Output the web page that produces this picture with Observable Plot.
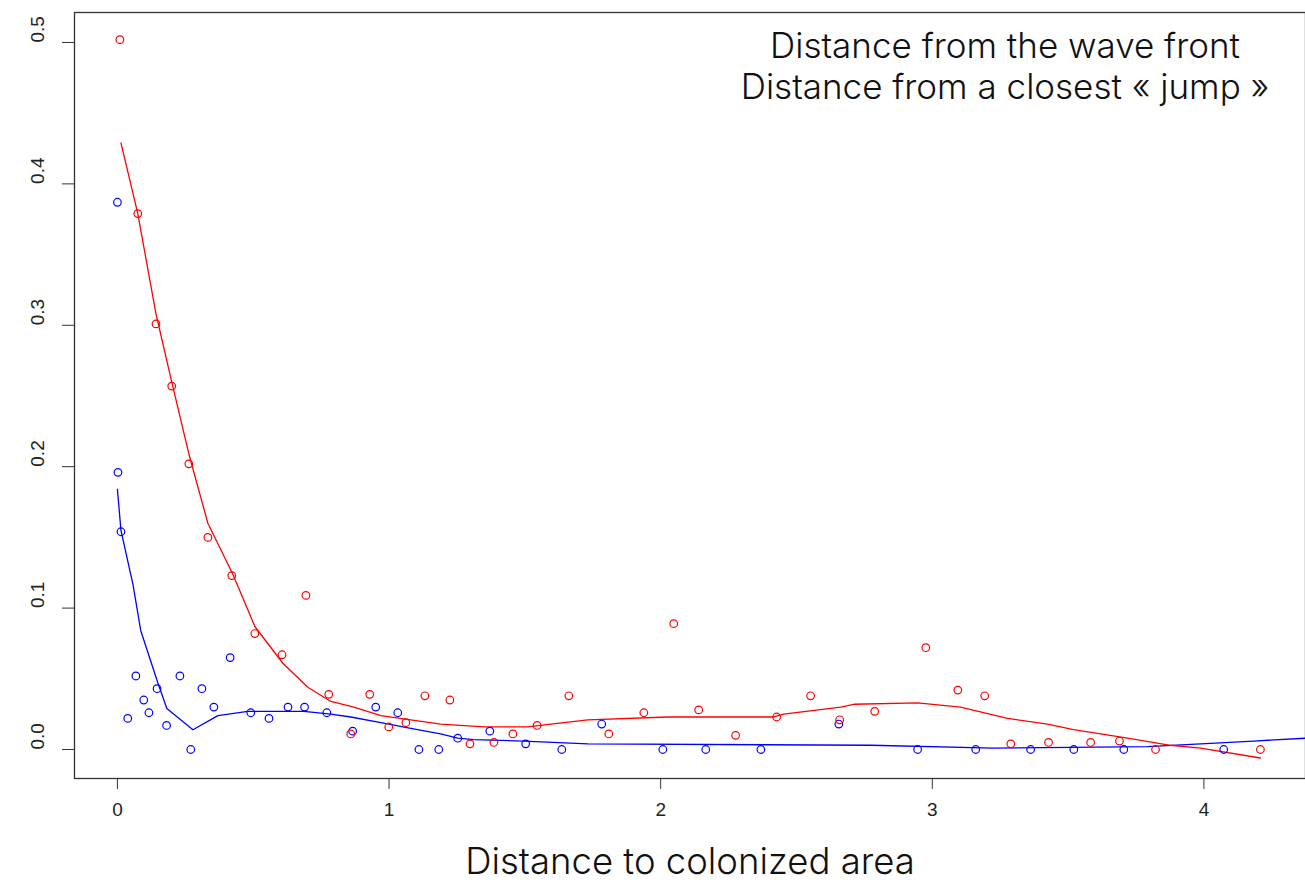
<!DOCTYPE html>
<html>
<head>
<meta charset="utf-8">
<script src="https://cdn.jsdelivr.net/npm/d3@7"></script>
<script src="https://cdn.jsdelivr.net/npm/@observablehq/plot@0.6"></script>
<style>
  html, body { margin: 0; padding: 0; background: #fff; }
  #chart svg { display: block; }
</style>
</head>
<body>
<div id="chart"></div>
<script>
// ---- data ----
const xTitle = "Distance to colonized area";
const legendLabels = ["Distance from the wave front", "Distance from a closest « jump »"];
const xTicks = [0, 1, 2, 3, 4];
const yTicks = [0.0, 0.1, 0.2, 0.3, 0.4, 0.5];

// red series: distance from a closest "jump"
const redX = [0.009, 0.075, 0.142, 0.200, 0.263, 0.333, 0.421, 0.506, 0.606, 0.694,
  0.778, 0.859, 0.929, 0.999, 1.062, 1.132, 1.224, 1.298, 1.386, 1.456,
  1.545, 1.662, 1.809, 1.938, 2.048, 2.140, 2.276, 2.427, 2.552, 2.659,
  2.788, 2.976, 3.094, 3.193, 3.289, 3.428, 3.583, 3.689, 3.822, 4.208];
const redY = [0.502, 0.379, 0.301, 0.257, 0.202, 0.150, 0.123, 0.082, 0.067, 0.109,
  0.039, 0.011, 0.039, 0.016, 0.019, 0.038, 0.035, 0.004, 0.005, 0.011,
  0.017, 0.038, 0.011, 0.026, 0.089, 0.028, 0.010, 0.023, 0.038, 0.021,
  0.027, 0.072, 0.042, 0.038, 0.004, 0.005, 0.005, 0.006, 0.000, 0.000];

// blue series: distance from the wave front
const blueX = [0.000, 0.002, 0.013, 0.038, 0.068, 0.097, 0.116, 0.146, 0.181, 0.230,
  0.270, 0.311, 0.355, 0.415, 0.491, 0.558, 0.628, 0.689, 0.771, 0.866,
  0.951, 1.032, 1.110, 1.183, 1.253, 1.371, 1.503, 1.636, 1.783, 2.008,
  2.166, 2.369, 2.656, 2.946, 3.160, 3.362, 3.521, 3.705, 4.073];
const blueY = [0.387, 0.196, 0.154, 0.022, 0.052, 0.035, 0.026, 0.043, 0.017, 0.052,
  0.000, 0.043, 0.030, 0.065, 0.026, 0.022, 0.030, 0.030, 0.026, 0.013,
  0.030, 0.026, 0.000, 0.000, 0.008, 0.013, 0.004, 0.000, 0.018, 0.000,
  0.000, 0.000, 0.018, 0.000, 0.000, 0.000, 0.000, 0.000, 0.000];

// smoothed fits
const redFitX = [0.013, 0.075, 0.142, 0.200, 0.263, 0.333, 0.425, 0.506, 0.609, 0.701,
  0.786, 0.870, 0.970, 1.080, 1.190, 1.349, 1.511, 1.596, 1.732, 2.026,
  2.416, 2.453, 2.663, 2.711, 2.946, 3.104, 3.277, 3.424, 3.520, 3.719,
  3.877, 3.988, 4.208];
const redFitY = [0.429, 0.379, 0.308, 0.260, 0.209, 0.160, 0.124, 0.087, 0.061, 0.044,
  0.034, 0.030, 0.024, 0.021, 0.018, 0.016, 0.016, 0.018, 0.021, 0.023,
  0.023, 0.025, 0.030, 0.032, 0.033, 0.030, 0.022, 0.018, 0.014, 0.008,
  0.003, 0.001, -0.006];

const blueFitX = [0.000, 0.013, 0.057, 0.086, 0.149, 0.182, 0.278, 0.370, 0.480, 0.686,
  0.786, 0.859, 0.970, 1.080, 1.190, 1.253, 1.312, 1.496, 1.732, 2.773,
  3.226, 3.793, 3.988, 4.183, 4.374];
const blueFitY = [0.184, 0.155, 0.117, 0.084, 0.047, 0.029, 0.014, 0.024, 0.027, 0.027,
  0.025, 0.023, 0.019, 0.015, 0.011, 0.008, 0.007, 0.006, 0.004, 0.003,
  0.001, 0.002, 0.004, 0.006, 0.008];

// ---- tables built from the arrays ----
const zip = (xs, ys) => xs.map((x, i) => ({x, y: ys[i]}));
const redPts = zip(redX, redY);
const bluePts = zip(blueX, blueY);
const redFit = zip(redFitX, redFitY);
const blueFit = zip(blueFitX, blueFitY);

const RED = "#ff0000";
const BLUE = "#0000ff";
const titleFont = "Inter, 'Liberation Sans', Helvetica, Arial, sans-serif";
const tickFont = "'Liberation Sans Narrow', 'Liberation Sans', Arial, sans-serif";

const chart = Plot.plot({
  width: 1305,
  height: 882,
  marginLeft: 74,
  marginRight: 0,
  marginTop: 12,
  marginBottom: 104,
  style: {background: "#fff", overflow: "visible"},
  x: {domain: [-0.158, 4.374]},
  y: {domain: [-0.0205, 0.5212]},
  marks: [
    Plot.frame({stroke: "#333", strokeWidth: 1.3}),
    Plot.axisX({ticks: xTicks, tickSize: 11, tickPadding: 13, tickFormat: d3.format("d"),
      fontSize: 19, fontFamily: tickFont, label: null, stroke: "#333", color: "#222"}),
    Plot.axisY({ticks: yTicks, tickSize: 12, tickFormat: () => "", label: null, stroke: "#333"}),
    Plot.text(yTicks, {y: d => d, text: d => d3.format(".1f")(d), frameAnchor: "left",
      dx: -37, rotate: -90, fontSize: 19, fontFamily: tickFont, fill: "#222"}),
    Plot.line(blueFit, {x: "x", y: "y", stroke: BLUE, strokeWidth: 1.3}),
    Plot.line(redFit, {x: "x", y: "y", stroke: RED, strokeWidth: 1.3}),
    Plot.dot(bluePts, {x: "x", y: "y", r: 3.8, stroke: BLUE, strokeWidth: 1.2, fill: "none"}),
    Plot.dot(redPts, {x: "x", y: "y", r: 3.8, stroke: RED, strokeWidth: 1.2, fill: "none"}),
    Plot.text([xTitle], {text: d => d, frameAnchor: "bottom", dy: 95, fontSize: 36.5,
      fontFamily: titleFont, fontWeight: 300, fill: "#111"}),
    Plot.text([legendLabels.join("\n")], {text: d => d, frameAnchor: "top", dx: 315, dy: 16,
      lineHeight: 1.17, fontSize: 35, fontFamily: titleFont, fontWeight: 300, fill: "#111"})
  ]
});
document.getElementById("chart").appendChild(chart);
</script>
</body>
</html>
